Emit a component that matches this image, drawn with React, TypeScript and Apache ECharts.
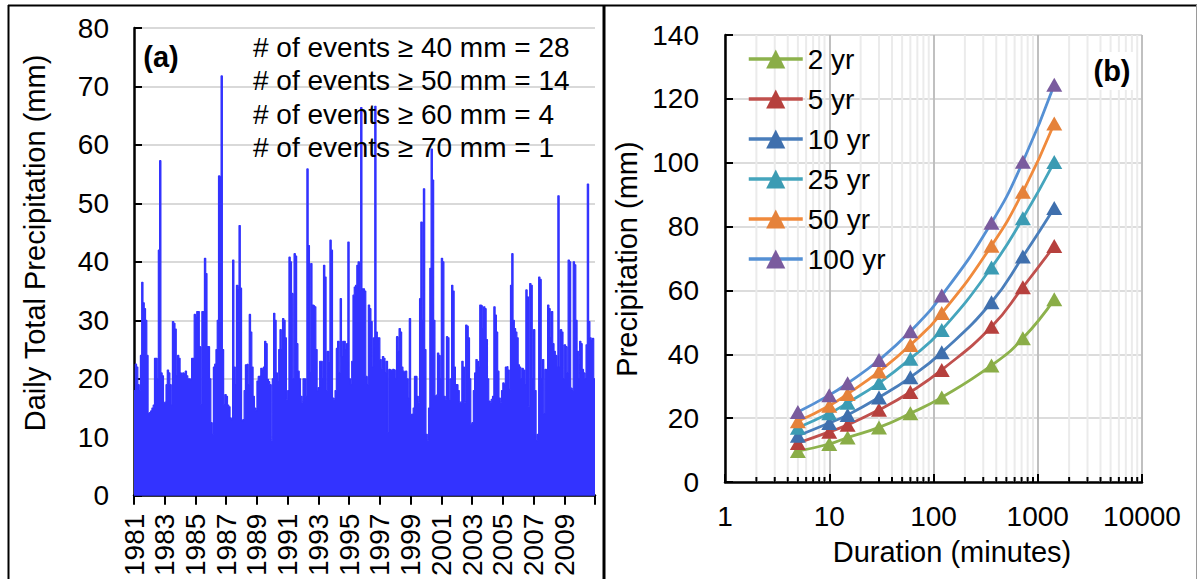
import React, { useEffect, useRef } from "react";
import * as echarts from "echarts";

// ---- Panel (a): peak daily precipitation read per month, Jan 1981 .. Dec 2010 (mm)
const startYear = 1981;
const endYear = 2011;
const monthlyPeakMm: number[] = [
  18, 22.5, 22, 19, 18, 24, 36.5, 33, 32, 30,
  24, 14, 14.2, 14.5, 15, 15.5, 23.5, 23.5, 20, 42,
  57.3, 21, 20.5, 15.8, 16, 19, 21.5, 21, 19, 15.5,
  29.8, 29.5, 28.5, 20.5, 24, 23.5, 21, 20.5, 21, 20.8,
  21.3, 20.5, 20, 20, 19.8, 23.5, 23.5, 31, 30.5, 31.5,
  31.5, 25.5, 15.6, 31.5, 31.5, 40.6, 38, 25.5, 25.5, 20,
  12.5, 10.5, 22, 22.5, 25, 30, 54.7, 54.5, 71.8, 25,
  15.6, 17.3, 17, 15.5, 15.2, 13.3, 13, 40.3, 22, 19,
  36, 35.5, 46.2, 35.5, 12.8, 13, 18, 22.4, 22.5, 19,
  31, 28, 22, 17, 15, 14.5, 19.6, 20.4, 20.5, 21.8,
  21.5, 22, 26.4, 26, 19.9, 19.5, 19, 9.5, 20, 31.2,
  30, 21, 19.5, 25, 28.4, 25, 30.3, 30, 27, 16.5,
  18, 40.8, 40, 34.6, 20, 41.4, 41, 26, 21.3, 20,
  17, 16, 20, 20, 17, 55.9, 42.8, 21, 39.7, 32.6,
  32.5, 32.3, 25, 17.9, 18.5, 23, 23, 20, 39.4, 37.4,
  18, 24.7, 23, 43.7, 42, 16.7, 16.5, 18, 25.2, 26.4,
  21, 33.7, 23.8, 26.4, 26.4, 25, 26, 43.4, 20, 19,
  23, 34.3, 35.7, 36, 39.4, 40, 35, 66.4, 35.4, 35.4,
  35, 20.4, 19, 32.6, 32, 29.8, 22, 27, 66.6, 28,
  27, 27, 23.3, 21.8, 23.8, 23.5, 21, 23, 10.8, 21.6,
  21.5, 21.4, 21.6, 21.5, 20, 27.2, 24.7, 28.6, 28, 22,
  21.3, 21, 21.3, 20, 16.7, 30.3, 13.9, 14, 15, 20.4,
  20.4, 17, 16, 33.7, 46.8, 30, 52.5, 25, 10.5, 9.5,
  15, 38.9, 59.3, 54, 30, 17, 17.2, 24.4, 24, 20,
  40.6, 40, 17, 16.5, 27.2, 27, 16.5, 20, 36, 35,
  22, 19, 19, 18, 16, 16, 23, 22, 16, 29.2,
  29, 27, 20, 12.2, 12.5, 18, 21, 23.3, 23, 22,
  32.6, 32.5, 28.6, 32.3, 32, 26.7, 20, 16.2, 16, 16.5,
  17, 32.3, 30.9, 28, 21.3, 16.7, 16, 18, 19.3, 19,
  22, 22.1, 21.5, 18.2, 36, 41.4, 30, 28.6, 28, 27,
  22.4, 22, 20, 21.8, 21.5, 19, 35.2, 34, 15.3, 36.3,
  36, 20, 28.4, 18, 9.4, 10.5, 37.4, 37, 20, 23.3,
  14, 21.6, 21.5, 32.6, 32, 27, 31.5, 26, 24.7, 24,
  22, 51.3, 22, 28.4, 28, 20, 25.8, 25.5, 21, 40.3,
  40, 18.4, 18, 40, 39.5, 30, 24.7, 20, 26.4, 26,
  21.6, 21, 20, 25.8, 53.3, 29.8, 27, 26.5, 26.9, 20,
];
const eventCountLines = [
  "# of events \u2265 40 mm = 28",
  "# of events \u2265 50 mm = 14",
  "# of events \u2265 60 mm = 4",
  "# of events \u2265 70 mm = 1",
];

// ---- Panel (b): depth-duration-frequency curves
const durationsMin = [5, 10, 15, 30, 60, 120, 360, 720, 1440];
const returnPeriods = ["2 yr", "5 yr", "10 yr", "25 yr", "50 yr", "100 yr"];
const depth2yr = [9.7, 11.9, 13.9, 17.1, 21.5, 26.5, 36.5, 45.0, 57.2];
const depth5yr = [12.2, 15.7, 17.9, 22.6, 28.2, 35.1, 48.6, 61.0, 73.9];
const depth10yr = [14.5, 18.5, 21.0, 26.5, 32.8, 40.6, 56.3, 70.6, 85.8];
const depth25yr = [17.0, 21.5, 24.8, 31.0, 38.6, 47.6, 67.2, 82.6, 100.2];
const depth50yr = [19.0, 23.9, 27.6, 34.6, 42.9, 52.9, 74.0, 90.9, 112.3];
const depth100yr = [21.9, 27.2, 30.9, 38.2, 47.2, 58.4, 81.2, 100.3, 124.4];
const depthSeries = [depth2yr, depth5yr, depth10yr, depth25yr, depth50yr, depth100yr];
const lineColors = ["#8db24c", "#c0504d", "#4a7ebb", "#45a5bd", "#f08a3c", "#5590d4"];
const markerColors = ["#8aad47", "#b6403d", "#3f6fad", "#3b9bb3", "#e5823b", "#7a5b9e"];

const FONT = '"Liberation Sans", Arial, sans-serif';

export default function App() {
  const ref = useRef<HTMLDivElement>(null);
  useEffect(() => {
    if (!ref.current) return;
    const chart = echarts.init(ref.current, undefined, { renderer: "svg" });

    const stepData: [number, number][] = monthlyPeakMm.map((v, i) => [startYear + i / 12, v]);
    stepData.push([endYear, monthlyPeakMm[monthlyPeakMm.length - 1]]);

    // minor log positions (axis decoration only)
    const minorX: number[] = [];
    for (let d = 1; d <= 1000; d *= 10) for (let k = 2; k <= 9; k++) minorX.push(d * k);

    const idfSeries = depthSeries.map((arr, si) => ({
      name: returnPeriods[si],
      type: "line",
      xAxisIndex: 1,
      yAxisIndex: 1,
      data: durationsMin.map((d, i) => [d, arr[i]]),
      smooth: true,
      symbol: "triangle",
      symbolSize: [16, 14],
      lineStyle: { color: lineColors[si], width: 2.8 },
      itemStyle: { color: markerColors[si] },
      z: 5,
    }));

    const textZ = 100;
    const option: any = {
      animation: false,
      backgroundColor: "#ffffff",
      textStyle: { fontFamily: FONT, color: "#000" },
      grid: [
        { left: 134, top: 28, width: 461, height: 470 },
        { left: 725, top: 35, width: 417, height: 447 },
      ],
      legend: {
        orient: "vertical",
        left: 742,
        top: 40,
        itemWidth: 54,
        itemHeight: 24,
        itemGap: 12,
        lineStyle: { width: 3.5 },
        textStyle: { fontFamily: FONT, fontSize: 28, color: "#000" },
        data: returnPeriods,
      },
      xAxis: [
        {
          type: "value",
          gridIndex: 0,
          min: startYear,
          max: endYear,
          interval: 2,
          axisLine: { show: true, lineStyle: { color: "#000", width: 2.5 } },
          axisTick: { show: true, inside: false, length: 9, lineStyle: { color: "#000", width: 2 } },
          axisLabel: {
            rotate: 90,
            fontSize: 28,
            margin: 18,
            color: "#000",
            fontFamily: FONT,
            formatter: (v: number) => (v === endYear ? "" : String(v)),
          },
          splitLine: { show: false },
        },
        {
          type: "log",
          gridIndex: 1,
          logBase: 10,
          min: 1,
          max: 10000,
          axisLine: { show: true, lineStyle: { color: "#000", width: 2.5 } },
          axisTick: { show: true, inside: true, length: 8, lineStyle: { color: "#000", width: 2 } },
          axisLabel: {
            fontSize: 28,
            margin: 20,
            color: "#000",
            fontFamily: FONT,
            formatter: (v: number) => String(Math.round(v)),
          },
          splitLine: { show: true, lineStyle: { color: "#c0c0c0", width: 2 } },
        },
      ],
      yAxis: [
        {
          type: "value",
          gridIndex: 0,
          min: 0,
          max: 80,
          interval: 10,
          axisLine: { show: true, lineStyle: { color: "#000", width: 2.5 } },
          axisTick: { show: true, inside: true, length: 8, lineStyle: { color: "#000", width: 2 } },
          axisLabel: { fontSize: 28, margin: 25, color: "#000", fontFamily: FONT },
          splitLine: { show: true, lineStyle: { color: "#d9d9d9", width: 2 } },
        },
        {
          type: "value",
          gridIndex: 1,
          min: 0,
          max: 140,
          interval: 20,
          axisLine: { show: true, lineStyle: { color: "#000", width: 2.5 } },
          axisTick: { show: true, inside: true, length: 8, lineStyle: { color: "#000", width: 2 } },
          axisLabel: { fontSize: 28, margin: 26, color: "#000", fontFamily: FONT },
          splitLine: { show: true, lineStyle: { color: "#dcdcdc", width: 2 } },
        },
      ],
      series: [
        {
          name: "Daily Total Precipitation",
          type: "line",
          xAxisIndex: 0,
          yAxisIndex: 0,
          data: stepData,
          step: "end",
          symbol: "none",
          lineStyle: { color: "#3333ff", width: 1.2 },
          areaStyle: { color: "#3333ff", opacity: 1 },
          z: 3,
        },
        {
          name: "minorGrid",
          type: "custom",
          xAxisIndex: 1,
          yAxisIndex: 1,
          silent: true,
          z: 1,
          data: minorX.map((v) => [v, 0]),
          renderItem: (params: any, api: any) => {
            const v = api.value(0);
            const p0 = api.coord([v, 0]);
            const p1 = api.coord([v, 140]);
            return {
              type: "group",
              children: [
                {
                  type: "line",
                  shape: { x1: p0[0], y1: p0[1], x2: p1[0], y2: p1[1] },
                  style: { stroke: "#ebebeb", lineWidth: 2 },
                },
                {
                  type: "line",
                  shape: { x1: p0[0], y1: p0[1], x2: p0[0], y2: p0[1] - 5 },
                  style: { stroke: "#000", lineWidth: 2 },
                  z2: 10,
                },
              ],
            };
          },
        },
        ...idfSeries,
      ],
      graphic: [
        // panel frames
        { type: "line", z: textZ, shape: { x1: 8, y1: 5.5, x2: 1197, y2: 5.5 }, style: { stroke: "#000", lineWidth: 2 } },
        { type: "line", z: textZ, shape: { x1: 8.5, y1: 5, x2: 8.5, y2: 579 }, style: { stroke: "#000", lineWidth: 2 } },
        { type: "line", z: textZ, shape: { x1: 604, y1: 5, x2: 604, y2: 579 }, style: { stroke: "#000", lineWidth: 3 } },
        { type: "line", z: textZ, shape: { x1: 1196.5, y1: 5, x2: 1196.5, y2: 579 }, style: { stroke: "#9a9a9a", lineWidth: 1 } },
        // panel labels
        {
          type: "text", z: textZ, x: 161, y: 57,
          style: { text: "(a)", fontFamily: FONT, fontSize: 29, fontWeight: "bold", fill: "#000", align: "center", verticalAlign: "middle" },
        },
        {
          type: "rect", z: textZ - 1, shape: { x: 1090, y: 52, width: 46, height: 38 },
          style: { fill: "#fff" },
        },
        {
          type: "text", z: textZ, x: 1112, y: 71,
          style: { text: "(b)", fontFamily: FONT, fontSize: 29, fontWeight: "bold", fill: "#000", align: "center", verticalAlign: "middle" },
        },
        ...eventCountLines.map((t, i) => ({
          type: "text", z: textZ, x: 253, y: [47, 80, 114, 147][i],
          style: { text: t, fontFamily: FONT, fontSize: 28, fill: "#000", align: "left", verticalAlign: "middle" },
        })),
        // axis titles
        {
          type: "text", z: textZ, x: 35, y: 243, rotation: Math.PI / 2,
          style: { text: "Daily Total Precipitation (mm)", fontFamily: FONT, fontSize: 29, fill: "#000", align: "center", verticalAlign: "middle" },
        },
        {
          type: "text", z: textZ, x: 627, y: 259, rotation: Math.PI / 2,
          style: { text: "Precipitation (mm)", fontFamily: FONT, fontSize: 29, fill: "#000", align: "center", verticalAlign: "middle" },
        },
        {
          type: "text", z: textZ, x: 952, y: 552,
          style: { text: "Duration (minutes)", fontFamily: FONT, fontSize: 29, fill: "#000", align: "center", verticalAlign: "middle" },
        },
      ],
    };
    chart.setOption(option);
    return () => chart.dispose();
  }, []);

  return (
    <div
      ref={ref}
      style={{ position: "fixed", left: 0, top: 0, width: 1198, height: 579, background: "#fff" }}
    />
  );
}
